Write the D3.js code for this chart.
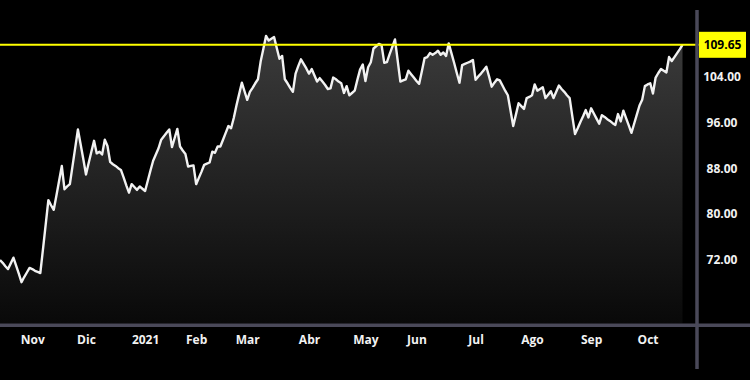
<!DOCTYPE html>
<html>
<head>
<meta charset="utf-8">
<script src="https://cdn.jsdelivr.net/npm/d3@7"></script>
<style>
  html, body { margin: 0; padding: 0; background: #000; }
  svg { display: block; }
  .tick text { font-family: "Open Sans", sans-serif; font-weight: 700; font-size: 12px; fill: #f2f2f2; }
</style>
</head>
<body>
<div id="chart"></div>
<script>
var W = 750, H = 380;

// one close per trading day, mid Oct 2020 -> Oct 2021
var closes = [
  71.9, 71.4, 70.8, 70.3, 71.3, 72.3, 70.9, 69.5, 68.0, 68.9,
  69.7, 70.5, 70.3, 70.0, 69.8, 69.6, 73.8, 78.1, 82.4, 81.5,
  80.7, 83.2, 85.8, 88.4, 84.3, 84.8, 85.2, 88.4, 91.6, 94.8,
  92.2, 89.6, 86.9, 88.9, 90.9, 92.8, 90.6, 90.9, 90.4, 93.0,
  91.9, 89.1, 88.7, 88.4, 88.0, 87.7, 86.4, 85.0, 83.7, 85.2,
  84.7, 84.2, 84.8, 84.4, 84.0, 85.8, 87.6, 89.3, 90.4, 91.5,
  93.0, 93.6, 94.2, 94.8, 91.7, 93.3, 94.9, 91.8, 91.1, 90.5,
  88.3, 88.4, 88.5, 85.2, 86.3, 87.4, 88.6, 88.8, 89.0, 90.9,
  90.7, 91.8, 91.8, 93.0, 94.2, 95.4, 95.0, 96.8, 99.0, 101.0,
  103.0, 101.5, 100.0, 101.4, 102.1, 102.9, 103.6, 106.7, 108.9, 111.2,
  110.4, 110.7, 111.0, 109.1, 107.2, 107.7, 103.6, 102.9, 102.1, 101.4,
  104.6, 105.9, 107.1, 106.3, 105.5, 104.6, 105.4, 104.3, 103.2, 103.8,
  103.2, 102.6, 101.9, 102.0, 103.9, 103.6, 103.2, 102.9, 101.2, 102.4,
  100.8, 101.2, 101.6, 103.5, 105.3, 106.2, 103.3, 105.7, 106.6, 109.0,
  109.4, 109.8, 109.6, 106.5, 106.6, 108.0, 109.3, 110.6, 106.9, 103.2,
  103.4, 103.6, 105.1, 104.5, 103.9, 103.3, 102.8, 105.0, 107.3, 107.5,
  108.2, 107.9, 108.2, 108.6, 107.9, 108.3, 107.7, 109.9, 108.2, 106.5,
  104.7, 103.0, 106.1, 106.3, 106.5, 106.7, 107.0, 103.5, 104.1, 104.6,
  105.2, 105.8, 104.1, 102.3, 103.0, 103.6, 103.4, 102.5, 101.6, 100.8,
  98.1, 95.4, 97.4, 99.4, 98.9, 98.4, 100.3, 100.5, 100.8, 102.7,
  101.6, 101.9, 102.2, 100.3, 100.9, 101.5, 100.3, 101.4, 102.5, 101.9,
  101.4, 100.8, 100.3, 97.1, 94.0, 95.0, 96.1, 97.1, 98.2, 96.9,
  98.5, 97.6, 96.7, 95.8, 97.3, 97.0, 96.6, 96.3, 95.9, 95.6,
  97.5, 96.2, 98.1, 96.8, 95.5, 94.2, 95.8, 97.4, 99.0, 100.0,
  102.4, 102.7, 102.9, 101.1, 103.9, 104.7, 105.4, 105.1, 104.8, 107.5,
  106.8, 107.5, 108.2, 108.9, 109.65
];

// first trading day of each month (index into closes)
var monthIdx = [12, 32, 54, 73, 92, 115, 136, 155, 177, 198, 220, 241];
var monthLabels = ["Nov", "Dic", "2021", "Feb", "Mar", "Abr", "May", "Jun", "Jul", "Ago", "Sep", "Oct"];

var yTicks = [72, 80, 88, 96, 104];
var lastPrice = closes[closes.length - 1];

var plotBottom = 323.5;
var axisX = 697;

var svg = d3.select("#chart").append("svg")
    .attr("width", W)
    .attr("height", H);

svg.append("rect").attr("width", W).attr("height", H).attr("fill", "#000");

var x = d3.scaleLinear()
    .domain([0, closes.length - 1])
    .range([0, 682.5]);

var y = d3.scaleLinear()
    .domain([60.49, 117.51])
    .range([325, 0]);

var defs = svg.append("defs");
var grad = defs.append("linearGradient")
    .attr("id", "areaFill")
    .attr("gradientUnits", "userSpaceOnUse")
    .attr("x1", 0).attr("y1", 36)
    .attr("x2", 0).attr("y2", plotBottom);
grad.append("stop").attr("offset", "0%").attr("stop-color", "#3b3b3b");
grad.append("stop").attr("offset", "100%").attr("stop-color", "#090909");

var area = d3.area()
    .x(function(d, i) { return x(i); })
    .y0(plotBottom)
    .y1(function(d) { return y(d); });

var line = d3.line()
    .x(function(d, i) { return x(i); })
    .y(function(d) { return y(d); });

svg.append("path")
    .datum(closes)
    .attr("d", area)
    .attr("fill", "url(#areaFill)");

svg.append("path")
    .datum(closes)
    .attr("d", line)
    .attr("fill", "none")
    .attr("stroke", "#f2f2f2")
    .attr("stroke-width", 2.4)
    .attr("stroke-linejoin", "round");

// last price line
svg.append("line")
    .attr("x1", 0).attr("x2", 700)
    .attr("y1", y(lastPrice)).attr("y2", y(lastPrice))
    .attr("stroke", "#ffff00")
    .attr("stroke-width", 2);

// axis frame lines
svg.append("line")
    .attr("x1", 0).attr("x2", W)
    .attr("y1", 325.3).attr("y2", 325.3)
    .attr("stroke", "#4a4959")
    .attr("stroke-width", 3.5);

svg.append("line")
    .attr("x1", axisX).attr("x2", axisX)
    .attr("y1", 10).attr("y2", 369)
    .attr("stroke", "#4a4959")
    .attr("stroke-width", 3.5);

// x axis
var xAxis = d3.axisBottom(x)
    .tickValues(monthIdx)
    .tickFormat(function(d, i) { return monthLabels[i]; })
    .tickSize(0)
    .tickPadding(0);

svg.append("g")
    .attr("transform", "translate(0,335)")
    .call(xAxis)
    .call(function(g) { g.select(".domain").remove(); });

// y axis
var yAxis = d3.axisRight(y)
    .tickValues(yTicks)
    .tickFormat(d3.format(".2f"))
    .tickSize(0)
    .tickPadding(0);

var yg = svg.append("g")
    .attr("transform", "translate(722,0)")
    .call(yAxis)
    .call(function(g) { g.select(".domain").remove(); });
yg.selectAll(".tick text").attr("text-anchor", "middle").attr("x", 0);

// last price tag
var tag = svg.append("g").attr("transform", "translate(0," + y(lastPrice) + ")");
tag.append("rect")
    .attr("x", 699).attr("y", -13)
    .attr("width", 47).attr("height", 26)
    .attr("fill", "#ffff00");
tag.append("text")
    .attr("x", 722.5).attr("dy", "0.35em")
    .attr("text-anchor", "middle")
    .style("font-family", "'Open Sans', sans-serif")
    .style("font-weight", 700)
    .style("font-size", "12px")
    .attr("fill", "#000")
    .text(d3.format(".2f")(lastPrice));
</script>
</body>
</html>
